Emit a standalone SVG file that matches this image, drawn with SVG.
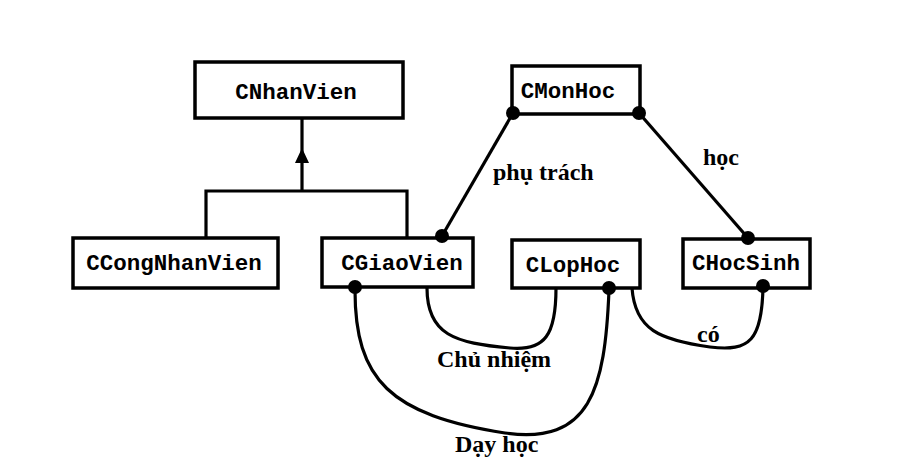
<svg xmlns="http://www.w3.org/2000/svg" width="922" height="469" viewBox="0 0 922 469">
<style>
.box{fill:#fff;stroke:#000;stroke-width:3.5}
.nt{font-family:"Liberation Mono","DejaVu Sans Mono",monospace;font-weight:bold;font-size:22.5px;fill:#000}
.ln{fill:none;stroke:#000;stroke-width:3.2}
.dot{fill:#000}
.lb{font-family:"Liberation Serif","Times New Roman",serif;font-weight:bold;font-size:24px;fill:#000}
</style>
<rect width="922" height="469" fill="#fff"/>
<g id="connectors">
<polyline class="ln" points="302,118 302,191"/>
<polygon points="302,148 295,163 309,163" fill="#000"/>
<polyline class="ln" points="206,238 206,191 407,191 407,238"/>
<line class="ln" x1="442" y1="236" x2="513" y2="113"/>
<line class="ln" x1="639" y1="113" x2="748" y2="238"/>
<path class="ln" d="M427,288 C427,335 455,343 510,348 C545,351 556,335 556,288"/>
<path class="ln" d="M355,290 C355,380 390,415 505,433 C590,445 605,390 609,290"/>
<path class="ln" d="M632,288 C635,330 660,340 710,347 C750,352 762,340 763,287"/>
<text class="lb" x="493" y="180">phụ trách</text>
<text class="lb" x="703" y="165">học</text>
<text class="lb" x="437" y="367">Chủ nhiệm</text>
<text class="lb" x="455" y="452">Dạy học</text>
<text class="lb" x="697" y="342">có</text>
</g>
<g id="CNhanVien">
<rect class="box" x="195" y="62" width="208" height="56"/>
<text class="nt" x="296" y="99" text-anchor="middle">CNhanVien</text>
</g>
<g id="CCongNhanVien">
<rect class="box" x="73" y="238" width="205" height="50"/>
<text class="nt" x="174" y="270" text-anchor="middle">CCongNhanVien</text>
</g>
<g id="CGiaoVien">
<rect class="box" x="322" y="238" width="151" height="49"/>
<text class="nt" x="402" y="270" text-anchor="middle">CGiaoVien</text>
<circle class="dot" cx="442" cy="236" r="7"/>
<circle class="dot" cx="355" cy="287" r="7"/>
</g>
<g id="CMonHoc">
<rect class="box" x="512" y="66" width="128" height="48"/>
<text class="nt" x="568" y="98" text-anchor="middle">CMonHoc</text>
<circle class="dot" cx="513" cy="113" r="7"/>
<circle class="dot" cx="639" cy="113" r="7"/>
</g>
<g id="CLopHoc">
<rect class="box" x="512" y="240" width="128" height="48"/>
<text class="nt" x="573" y="272" text-anchor="middle">CLopHoc</text>
<circle class="dot" cx="609" cy="288" r="7"/>
</g>
<g id="CHocSinh">
<rect class="box" x="683" y="239" width="127" height="49"/>
<text class="nt" x="746" y="270" text-anchor="middle">CHocSinh</text>
<circle class="dot" cx="748" cy="238" r="7"/>
<circle class="dot" cx="763" cy="286" r="7"/>
</g>
</svg>
